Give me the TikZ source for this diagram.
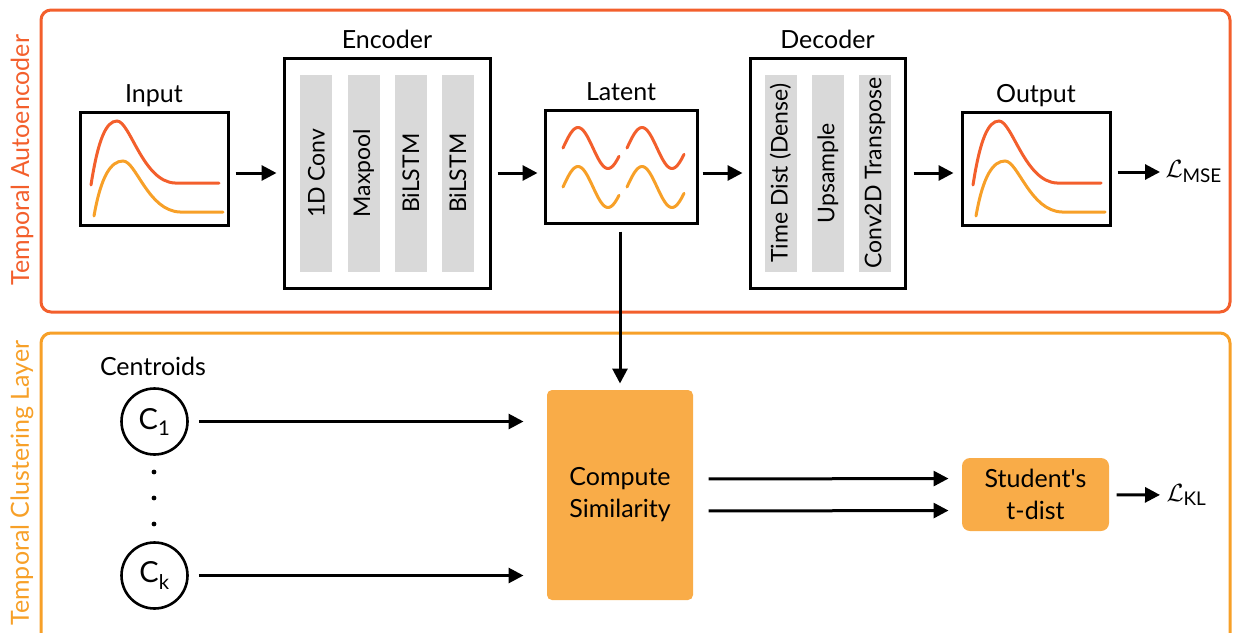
\documentclass[tikz,border=0pt]{standalone}
\usepackage{fontspec}
\setmainfont{Lato}
\usetikzlibrary{positioning,arrows.meta}
\definecolor{aered}{RGB}{243,95,44}
\definecolor{tcorange}{RGB}{247,160,40}
\definecolor{simfill}{RGB}{249,172,72}
\definecolor{bargray}{RGB}{217,217,217}
\newcommand{\pulses}[1]{\begin{scope}[xshift=#1pt]
	\draw[aered] (91,185) .. controls (98,140) and (106,121) .. (117,121) .. controls (130,121) and (143,182) .. (175,183) -- (219,183);
	\draw[tcorange] (94,216) .. controls (101,176) and (111,161) .. (123,161) .. controls (136,161) and (148,211) .. (180,212) -- (223,212);
	\end{scope}}
\newcommand{\waves}[2]{\draw[#2] plot[domain=0:56,samples=40,smooth] ({563+\x},{#1-20.5*sin(6*\x)});
	\draw[#2] plot[domain=0:57,samples=40,smooth] ({627+\x},{#1-20.5*sin(6*\x)})}

\begin{document}
\begin{tikzpicture}[x=1pt,y=-1pt,line width=3pt,line cap=round,
	font=\fontsize{25}{32}\selectfont,
	sigbox/.style={draw,line width=3pt,minimum width=148pt,minimum height=113pt,inner sep=0pt},
	coder/.style={draw,line width=3pt,minimum height=230pt,inner sep=0pt},
	layer/.style={fill=bargray,rotate=90,minimum width=197pt,minimum height=32pt,inner sep=0pt,font=\fontsize{23}{27}\selectfont},
	title/.style={anchor=base},
	cent/.style={circle,draw,line width=2.6pt,minimum size=66pt,inner sep=0pt,font=\fontsize{29}{32}\selectfont},
	simbox/.style={fill=simfill,rounded corners=5pt,align=center,inner sep=0pt},
	flow/.style={-{Triangle[length=15pt,width=15pt]},line width=3pt,line cap=butt,shorten <=6pt,shorten >=6pt},
	loss/.style={anchor=west,inner sep=2pt,font=\fontsize{27}{32}\selectfont}]
	\useasboundingbox (0,0) rectangle (1233,632);
	\draw[aered,line width=3pt,rounded corners=10pt] (41,10) rectangle (1230,312);
	\draw[tcorange,line width=3pt,rounded corners=10pt] (41,333) rectangle (1230,660);
	\node[aered,rotate=90] (aelbl) at (22,160) {Temporal Autoencoder};
	\node[tcorange,rotate=90] (tcllbl) at (22,483) {Temporal Clustering Layer};

	\node[sigbox] (input) at (154,168.5) {};
	\node[coder,minimum width=206pt] (enc) at (387,173) {};
	\node[sigbox,minimum width=152pt] (latent) at (621,166.5) {};
	\node[coder,minimum width=155pt] (dec) at (827.5,173) {};
	\node[sigbox] (output) at (1036,168.5) {};
	\foreach \t/\n in {Input/input,Encoder/enc,Latent/latent,Decoder/dec,Output/output}
		\node[title] (\n-lbl) at ([yshift=8pt]\n.north) {\t};
	\foreach \t [count=\i] in {1D Conv,Maxpool,BiLSTM,BiLSTM}
		\node[layer] (enc\i) at ({269.1+47.2*\i},173.3) {\t};
	\foreach \t [count=\i] in {Time Dist (Dense),Upsample,Conv2D Transpose}
		\node[layer] (dec\i) at ({733.2+47.3*\i},173.3) {\t};
	\pulses{0}
	\pulses{882}
	\waves{148}{aered};
	\waves{187}{tcorange};

	\draw[flow] (input.east |- enc) -- (enc);
	\draw[flow] (enc) -- (latent.west |- enc);
	\draw[flow,shorten <=4pt] (latent.east |- dec) -- (dec);
	\draw[flow,shorten <=7pt,shorten >=7pt] (dec) -- (output.west |- dec);
	\node[loss] (mse) at (1162,172) {$\mathcal{L}$\textsubscript{MSE}};
	\draw[flow,shorten >=2pt] (output.east |- mse) -- (mse);

	\node[title] (centlbl) at (153,375) {Centroids};
	\node[cent] (c1) at (154.5,421.5) {C\textsubscript{1}};
	\node[cent] (ck) at (154.5,575.5) {C\textsubscript{k}};
	\foreach \y in {472,498,524}
		\fill (154,\y) circle (2.4pt);
	\node[simbox,minimum width=146pt,minimum height=210pt] (comp) at (620,495) {Compute\\Similarity};
	\node[simbox,minimum width=147pt,minimum height=73pt,rounded corners=8pt] (stud) at (1035.5,494.5) {Student\textquotesingle s\\t-dist};
	\draw[flow,shorten <=10pt,shorten >=22pt] (c1) -- (c1 -| comp.west);
	\draw[flow,shorten <=10pt,shorten >=22pt] (ck) -- (ck -| comp.west);
	\draw[flow,shorten <=7pt,shorten >=5pt] (comp.north |- latent.south) -- (comp);
	\draw[flow,shorten <=14pt,shorten >=12pt] ([yshift=16pt]comp.east) -- ([yshift=16pt]stud.west);
	\draw[flow,shorten <=14pt,shorten >=12pt] ([yshift=-16pt]comp.east) -- ([yshift=-16pt]stud.west);
	\node[loss] (kl) at (1163,495) {$\mathcal{L}$\textsubscript{KL}};
	\draw[flow,shorten >=3pt] (stud) -- (kl);
\end{tikzpicture}
\end{document}
